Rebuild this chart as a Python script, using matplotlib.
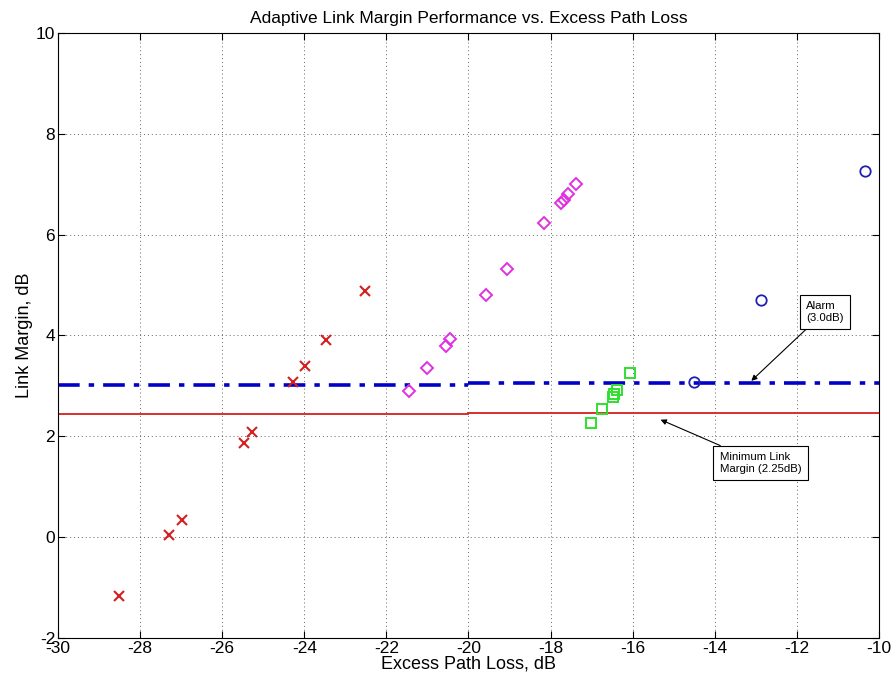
import matplotlib.pyplot as plt

plt.rcParams['font.family'] = ['Liberation Sans', 'DejaVu Sans']
plt.rcParams['axes.unicode_minus'] = False

# ==== Data ====
red_x = [-28.51, -27.30, -26.99, -25.48, -25.27, -24.28, -23.98, -23.46, -22.52]
red_y = [-1.17, 0.05, 0.35, 1.87, 2.08, 3.08, 3.39, 3.91, 4.88]

mag_x = [-21.46, -21.02, -20.56, -20.44, -19.57, -19.05, -18.15, -17.75, -17.68, -17.58, -17.38]
mag_y = [2.89, 3.35, 3.80, 3.94, 4.80, 5.32, 6.23, 6.63, 6.68, 6.80, 7.01]

grn_x = [-17.02, -16.74, -16.49, -16.45, -16.37, -16.06]
grn_y = [2.27, 2.55, 2.78, 2.83, 2.92, 3.25]

blu_x = [-14.50, -12.87, -10.34]
blu_y = [3.07, 4.70, 7.26]

# threshold lines, two segments each (split at -20 dB)
seg_x = [[-30, -20], [-20, -10]]
alarm_y = [3.02, 3.05]
minlm_y = [2.44, 2.46]

fig = plt.figure(figsize=(8.91, 6.83), dpi=100)
ax = fig.add_axes([0.0651, 0.0659, 0.9214, 0.8858])

for xs, a, m in zip(seg_x, alarm_y, minlm_y):
    ax.plot(xs, [a, a], color="#0000c8", lw=2.6, ls=(0, (6, 2.5, 1.5, 2.5)))
    ax.plot(xs, [m, m], color="#d42020", lw=1.3)

ax.plot(red_x, red_y, "x", color="#d42020", ms=6.5, mew=1.5)
ax.plot(mag_x, mag_y, "D", mfc="none", mec="#e030e0", ms=6, mew=1.4)
ax.plot(grn_x, grn_y, "s", mfc="none", mec="#30e030", ms=7, mew=1.4)
ax.plot(blu_x, blu_y, "o", mfc="none", mec="#2020b0", ms=7.5, mew=1.3)

ax.set_xlim(-30, -10)
ax.set_ylim(-2, 10)
ax.set_xticks(range(-30, -9, 2))
ax.set_yticks(range(-2, 11, 2))
ax.tick_params(direction="in", top=True, right=True, labelsize=12.5, length=5, pad=2)
ax.grid(True, ls=(0, (1, 3)), color="black", lw=0.7, alpha=0.6)

ax.set_xlabel("Excess Path Loss, dB", fontsize=13, labelpad=0)
ax.set_ylabel("Link Margin, dB", fontsize=13, labelpad=2)
ax.set_title("Adaptive Link Margin Performance vs. Excess Path Loss", fontsize=12.5, pad=7)

box = dict(boxstyle="square,pad=0.55", fc="white", ec="black", lw=0.8)
ax.annotate("Alarm\n(3.0dB)", xy=(-13.11, 3.10), xytext=(-11.78, 4.47),
            fontsize=8.2, ha="left", va="center", bbox=box,
            arrowprops=dict(arrowstyle="-|>", color="black", lw=0.8, shrinkA=0, shrinkB=0))
ax.annotate("Minimum Link\nMargin (2.25dB)", xy=(-15.32, 2.33), xytext=(-13.88, 1.47),
            fontsize=8.2, ha="left", va="center", bbox=box,
            arrowprops=dict(arrowstyle="-|>", color="black", lw=0.8, shrinkA=0, shrinkB=0))

fig.savefig("out.png", dpi=100)
